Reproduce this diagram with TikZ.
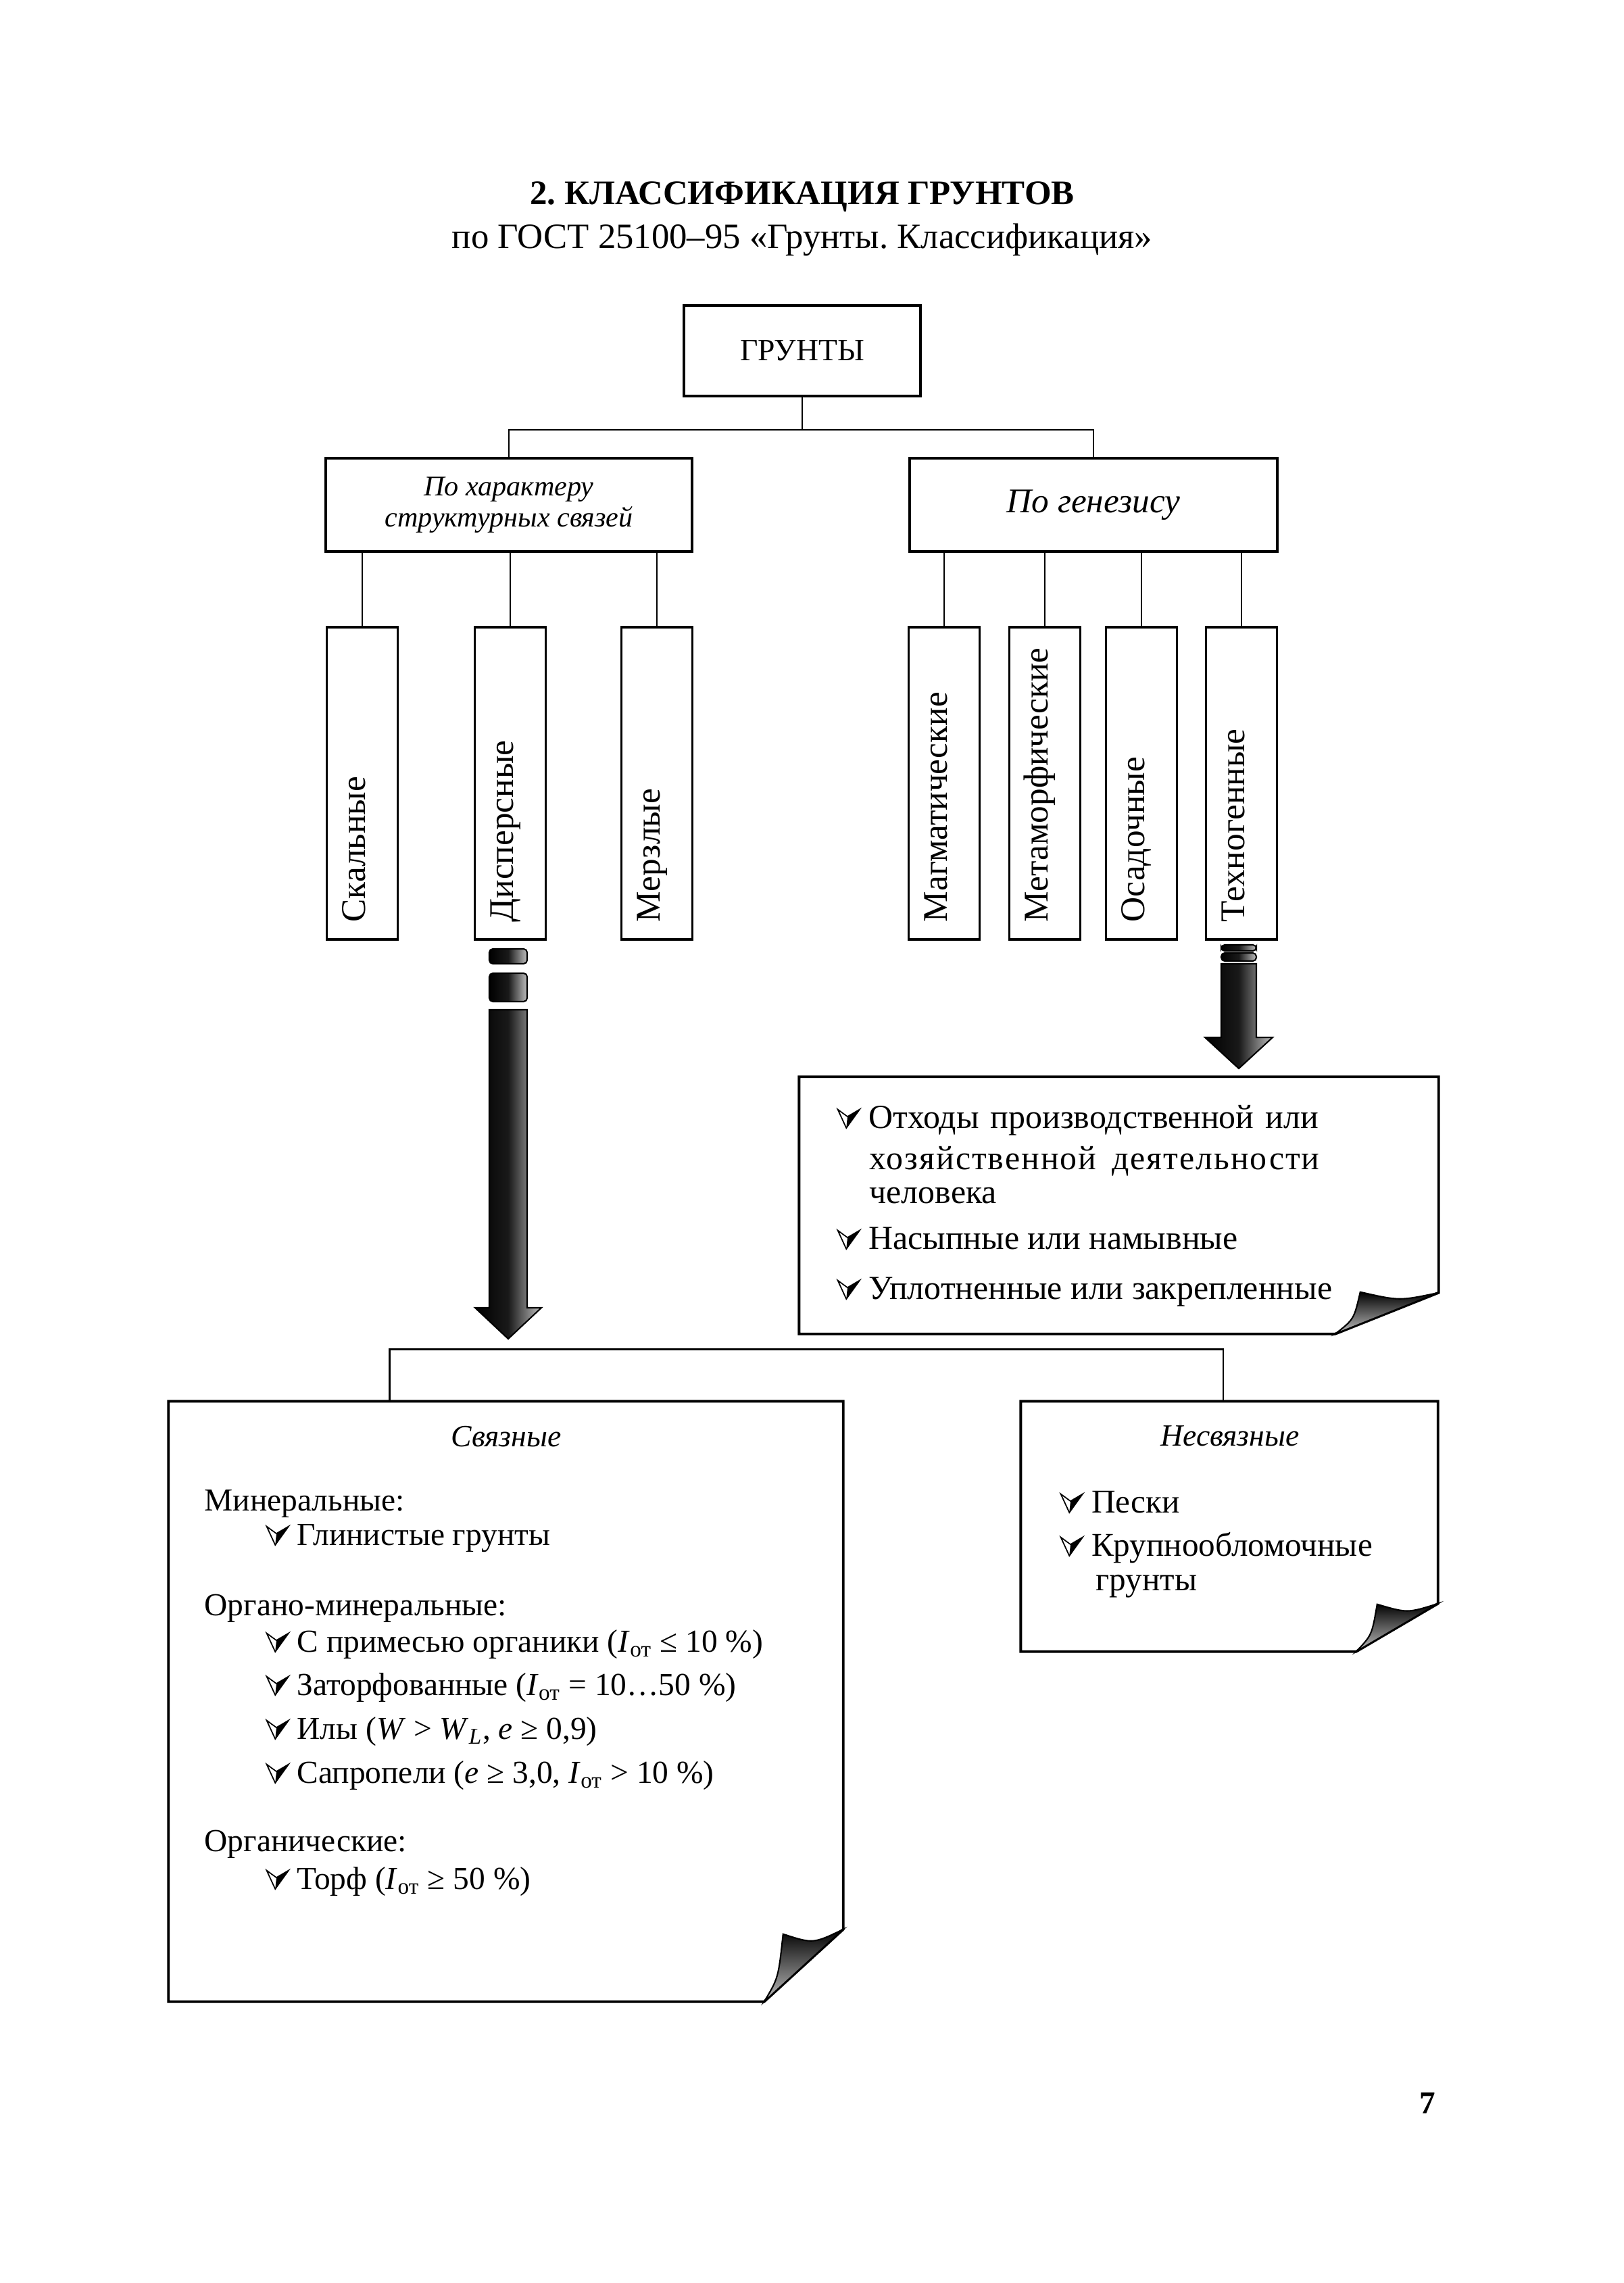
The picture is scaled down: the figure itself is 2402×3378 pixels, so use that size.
\documentclass[tikz,border=0pt]{standalone}
\usepackage{fontspec}
\setmainfont{Liberation Serif}
\usetikzlibrary{calc}
\frenchspacing

% bullet of the lists
\newcommand\chk{\tikz[baseline=0pt,x=1pt,y=1pt,line width=0.5pt,line join=miter]{%
  \draw (0,7.8) -- (3.6,0) -- (9.2,7.8) -- (4.1,4.8) -- cycle;
  \fill (3.6,0) -- (9.2,7.8) -- (4.1,4.8) -- cycle;}}

% note with curled corner: #1 node, #2 bottom cut, #3/#4 tip, #5 right cut
\newcommand\foldnote[5]{%
  \draw[noteline] (#1.north west) -- (#1.north east) -- ($(#1.south east)+(0,-#5)$)
    -- ($(#1.south east)+(-#2,0)$) -- (#1.south west) -- cycle;
  \shade[curl] ($(#1.south east)+(-#2,0)$)
    .. controls ($(#1.south east)+({-#2+0.75*(#2-#3)},{-0.35*#4})$) .. ($(#1.south east)+(-#3,-#4)$)
    .. controls ($(#1.south east)+({-0.5*#3},{-0.8*#5})$) .. ($(#1.south east)+(0,-#5)$) -- cycle;}

\tikzset{
  box/.style={draw, line width=1.1pt, inner sep=0pt},
  link/.style={line width=0.8pt},
  vbox/.style={box, minimum width=10.5mm, minimum height=46.2mm},
  vlabel/.style={rotate=90, anchor=base west, inner sep=0pt, font=\fontsize{14.6}{17}\selectfont},
  notebox/.style={inner sep=0pt},
  noteline/.style={line width=1.1pt, line join=miter},
  curl/.style={draw, line width=0.6pt, top color=black, bottom color=black!25},
  blockarrow/.style={draw, line width=0.6pt, left color=black, right color=black!25, middle color=black!90},
  txt/.style={anchor=base west, inner sep=0pt},
  bodytxt/.style={txt, font=\fontsize{13.5}{15}\selectfont},
  tehtxt/.style={txt, font=\fontsize{14.2}{17}\selectfont},
  headtxt/.style={anchor=base, inner sep=0pt, font=\itshape\fontsize{13}{15}\selectfont}
}

\begin{document}
\begin{tikzpicture}[x=0.1mm,y=-0.1mm]
  \fill[white] (0,0) rectangle (2402,3378);
  \useasboundingbox (0,0) rectangle (2402,3378);

  % title
  \node[anchor=base, font=\bfseries\fontsize{14.5}{17}\selectfont] (title) at (1187,303) {2. КЛАССИФИКАЦИЯ ГРУНТОВ};
  \node[anchor=base, font=\fontsize{15}{17}\selectfont] (subtitle) at (1187,368) {по ГОСТ 25100–95 «Грунты. Классификация»};

  % top of the tree
  \node[box, minimum width=35mm, minimum height=13.4mm, font=\fontsize{13}{15}\selectfont] (grunty) at (1187,519) {ГРУНТЫ};
  \node[box, minimum width=54.2mm, minimum height=13.8mm, align=center, font=\itshape\fontsize{12}{13.2}\selectfont] (struct) at (753,747) {По характеру\\структурных связей};
  \node[box, minimum width=54.4mm, minimum height=13.8mm, font=\itshape\fontsize{14.6}{17}\selectfont] (genez) at (1618,747) {По генезису};
  \draw[link] (grunty.south) -- ++(0,48) -| (struct.north);
  \draw[link] (grunty.south) -- ++(0,48) -| (genez.north);

  % vertical boxes
  \foreach \n/\x/\t in {skal/536/Скальные, disp/755/Дисперсные, merz/972/Мерзлые,
      magm/1397/Магматические, meta/1546/Метаморфические, osad/1689/Осадочные, tehn/1837/Техногенные}{
    \node[vbox] (\n) at (\x,1159) {};
    \node[vlabel] at ([xshift=0.4mm,yshift=2.7mm]\n.south) {\t};
  }
  \foreach \n in {skal,disp,merz}
    \draw[link] (struct.south -| \n.north) -- (\n.north);
  \foreach \n in {magm,meta,osad,tehn}
    \draw[link] (genez.south -| \n.north) -- (\n.north);

  % block arrows
  \shade[blockarrow, rounded corners=1.5pt] (724,1404) rectangle (780,1426);
  \shade[blockarrow, rounded corners=1.5pt] (724,1440) rectangle (780,1482);
  \shade[blockarrow] (724,1494) -- (724,1935) -- (703,1935) -- (752,1981) -- (801,1935) -- (780,1935) -- (780,1494) -- cycle;
  \shade[blockarrow, rounded corners=1.5pt] (1807,1398) rectangle (1859,1407);
  \shade[blockarrow, rounded corners=1.5pt] (1807,1410) rectangle (1859,1422);
  \shade[blockarrow] (1807,1426) -- (1807,1535) -- (1783,1535) -- (1833,1581) -- (1883,1535) -- (1859,1535) -- (1859,1426) -- cycle;

  % note of technogenic soils
  \node[notebox, minimum width=94.5mm, minimum height=37.9mm] (tehnote) at (1655.5,1783.5) {};
  \foldnote{tehnote}{153}{116}{62}{61}
  \node[tehtxt] at (1238,1669) {\chk\ \makebox[66.6mm][s]{Отходы производственной или}};
  \node[tehtxt] at (1286,1730) {\makebox[66.6mm][s]{\addfontfeature{LetterSpace=4}хозяйственной деятельности}};
  \node[tehtxt] at (1286,1780) {человека};
  \node[tehtxt] at (1238,1848) {\chk\ Насыпные или намывные};
  \node[tehtxt] at (1238,1922) {\chk\ Уплотненные или закрепленные};

  % bottom notes
  \node[notebox, minimum width=99.7mm, minimum height=88.7mm] (svyaz) at (748.5,2517.5) {};
  \node[notebox, minimum width=61.6mm, minimum height=36.9mm] (nesvyaz) at (1819,2258.5) {};
  \foldnote{svyaz}{117}{89}{100}{107}
  \foldnote{nesvyaz}{121}{90}{70}{71}
  \draw[link] ($(svyaz.north west)+(327,0)$) -- ++(0,-77) -| ($(nesvyaz.north)+(-9,0)$);

  \node[headtxt] at (749,2140) {Связные};
  \foreach \x/\y/\t in {302/2235/{Минеральные:},
      393/2286/{\chk\ Глинистые грунты},
      302/2390/{Органо-минеральные:},
      393/2444/{\chk\ С примесью органики (\textit{I}\textsubscript{от} ≤ 10 \%)},
      393/2508/{\chk\ Заторфованные (\textit{I}\textsubscript{от} = 10…50 \%)},
      393/2573/{\chk\ Илы (\textit{W} > \textit{W}\textsubscript{\textit{L}}, \textit{e} ≥ 0,9)},
      393/2638/{\chk\ Сапропели (\textit{e} ≥ 3,0, \textit{I}\textsubscript{от} > 10 \%)},
      302/2739/{Органические:},
      393/2795/{\chk\ Торф (\textit{I}\textsubscript{от} ≥ 50 \%)}}
    \node[bodytxt] at (\x,\y) {\t};

  \node[headtxt] at (1820,2139) {Несвязные};
  \node[bodytxt, font=\fontsize{14}{16}\selectfont] at (1568,2238) {\chk\ Пески};
  \node[bodytxt, font=\fontsize{14}{16}\selectfont] at (1568,2302) {\chk\ Крупнообломочные};
  \node[bodytxt, font=\fontsize{14}{16}\selectfont] at (1621,2353) {грунты};

  % page number
  \node[anchor=base, font=\bfseries\fontsize{13.4}{15}\selectfont] (pagenum) at (2112,3127) {7};
\end{tikzpicture}
\end{document}
